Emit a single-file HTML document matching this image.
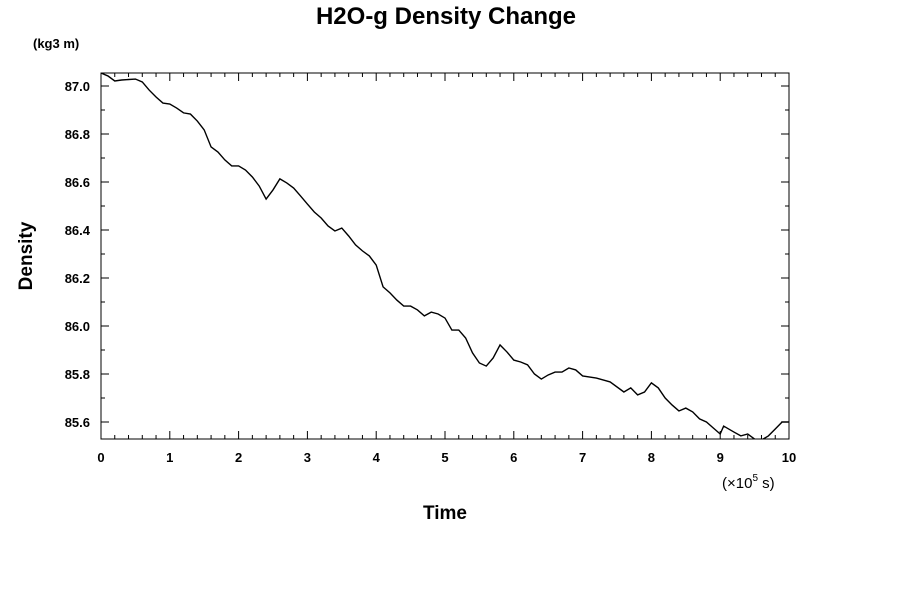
<!DOCTYPE html>
<html><head><meta charset="utf-8"><style>
body{margin:0;background:#fff;}
svg text{font-family:"Liberation Sans",sans-serif;font-weight:bold;fill:#000;}
</style></head><body>
<svg id="c" width="900" height="600">
<text x="446" y="24" font-size="24" text-anchor="middle">H2O-g Density Change</text>
<text x="33" y="48" font-size="13">(kg3 m)</text>
<text x="0" y="0" font-size="19" text-anchor="middle" transform="translate(32,256) rotate(-90)">Density</text>
<text x="445" y="519" font-size="19" text-anchor="middle">Time</text>
<text x="722" y="488" font-size="15" style="font-weight:normal">(×10<tspan font-size="10" dy="-7">5</tspan><tspan dy="7"> s)</tspan></text>
<g id="axes"></g>
</svg>
<script>
const xs=[0,0.1,0.2,0.3,0.5,0.6,0.7,0.8,0.9,1.0,1.1,1.2,1.3,1.4,1.5,1.6,1.7,1.8,1.9,2.0,2.1,2.2,2.3,2.4,2.5,2.6,2.7,2.8,2.9,3.0,3.1,3.2,3.3,3.4,3.5,3.6,3.7,3.8,3.9,4.0,4.1,4.2,4.3,4.4,4.5,4.6,4.7,4.8,4.9,5.0,5.1,5.2,5.3,5.4,5.5,5.6,5.7,5.8,5.9,6.0,6.1,6.2,6.3,6.4,6.5,6.6,6.7,6.8,6.9,7.0,7.2,7.4,7.6,7.7,7.8,7.9,8.0,8.1,8.2,8.3,8.4,8.5,8.6,8.7,8.8,8.9,9.0,9.05,9.2,9.3,9.4,9.5,9.6,9.7,9.8,9.9,10];
const density=[87.054,87.042,87.021,87.025,87.029,87.017,86.983,86.954,86.929,86.925,86.908,86.888,86.883,86.854,86.817,86.746,86.725,86.692,86.667,86.667,86.650,86.621,86.583,86.529,86.567,86.613,86.596,86.575,86.542,86.508,86.475,86.450,86.417,86.396,86.408,86.375,86.338,86.313,86.292,86.254,86.163,86.138,86.108,86.083,86.083,86.067,86.042,86.058,86.050,86.033,85.983,85.983,85.950,85.888,85.846,85.833,85.867,85.921,85.892,85.858,85.850,85.838,85.800,85.779,85.796,85.808,85.808,85.825,85.817,85.792,85.783,85.767,85.725,85.742,85.713,85.725,85.763,85.742,85.700,85.671,85.646,85.658,85.642,85.613,85.600,85.575,85.550,85.583,85.558,85.542,85.550,85.529,85.525,85.542,85.571,85.600,85.600];
const xTickLabels=["0","1","2","3","4","5","6","7","8","9","10"];
const yTickLabels=["85.6","85.8","86.0","86.2","86.4","86.6","86.8","87.0"];
const L=101,R=789,T=73,B=439;
const X=v=>L+v*(R-L)/10;
const Y=v=>86+(87-v)*240;
const ns="http://www.w3.org/2000/svg";
const g=document.getElementById('axes');
function mk(t,a){const e=document.createElementNS(ns,t);for(const k in a)e.setAttribute(k,a[k]);g.appendChild(e);return e;}
const defs=mk('clipPath',{id:'clip'});
const cr=document.createElementNS(ns,'rect');cr.setAttribute('x',L);cr.setAttribute('y',T);cr.setAttribute('width',R-L);cr.setAttribute('height',B-T);defs.appendChild(cr);
const frame=mk('rect',{x:L,y:T,width:R-L,height:B-T,fill:'none',stroke:'#000','stroke-width':1});


for(let i=0;i<=50;i++){const v=i*0.2;const x=X(v);const maj=i%5===0;const len=maj?8:4;
 mk('line',{x1:x,x2:x,y1:B,y2:B-len,stroke:'#000'});mk('line',{x1:x,x2:x,y1:T,y2:T+len,stroke:'#000'});}
xTickLabels.forEach((s,i)=>{const t=mk('text',{x:X(+s),y:462,'font-size':13,'text-anchor':'middle'});t.textContent=s;
 
 });
for(let k=0;k<=15;k++){const v=85.6+k*0.1;const y=Y(v);if(y<T||y>B)continue;const maj=k%2===0;const len=maj?8:4;
 mk('line',{x1:L,x2:L+len,y1:y,y2:y,stroke:'#000'});mk('line',{x1:R,x2:R-len,y1:y,y2:y,stroke:'#000'});}
yTickLabels.forEach(s=>{const t=mk('text',{x:90,y:Y(+s)+5,'font-size':13,'text-anchor':'end'});t.textContent=s;
 
 });
const p=mk('polyline',{points:xs.map((v,i)=>X(v)+','+Y(density[i])).join(' '),fill:'none',stroke:'#000','stroke-width':1.4,'clip-path':'url(#clip)'});


</script>
</body></html>
